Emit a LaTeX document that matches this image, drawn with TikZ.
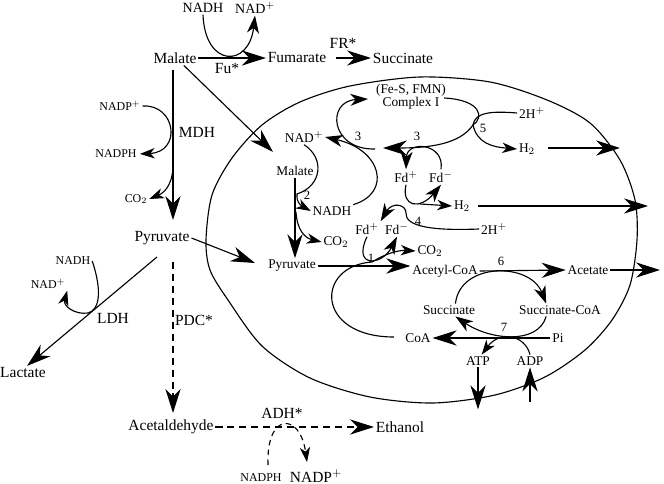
\documentclass[tikz,border=0pt]{standalone}
\usepackage{fontspec}
\setmainfont{Liberation Serif}
\usetikzlibrary{arrows.meta}

\begin{document}
\begin{tikzpicture}[x=0.025cm,y=-0.025cm,line width=0.8pt,
		lab/.style={font=\fontsize{11}{12}\selectfont,inner sep=1pt},
		mlab/.style={font=\fontsize{10}{11}\selectfont,inner sep=1pt},
		ilab/.style={font=\fontsize{9.5}{10}\selectfont,inner sep=1pt},
		slab/.style={font=\fontsize{8.5}{9}\selectfont,inner sep=1pt},
		numl/.style={font=\fontsize{9}{10}\selectfont,inner sep=0pt},
		bigarr/.style={-{Stealth[length=6mm,width=3.8mm,inset=1.9mm]}},
		midarr/.style={-{Stealth[length=4.4mm,width=3mm,inset=1.3mm]}},
		smallarr/.style={-{Stealth[length=3.7mm,width=2.6mm,inset=1.1mm]}},
		dsh/.style={dash pattern=on 5pt off 3.5pt}]
	\useasboundingbox (0,0) rectangle (664,484);
	\draw plot[smooth cycle] coordinates {(206,240) (212,195) (232,158) (262,125) (300,102) (350,86) (420,77) (490,82) (547,100) (590,123) (620,160) (635,200) (637,240) (630,285) (612,320) (585,350) (545,377) (495,395) (433,403) (370,397) (310,378) (262,346) (228,300) (210,270)};
	% outside
	\node[mlab] (nadhT) at (203,8) {NADH};
	\node[mlab] (nadT) at (255,8) {NAD$^+$};
	\node[lab] (malate) at (175,58) {Malate};
	\node[lab] (fumarate) at (297,58) {Fumarate};
	\node[lab] (succinate) at (403,58) {Succinate};
	\node[lab] (fu) at (227,69) {Fu*};
	\node[lab] (fr) at (343,43) {FR*};
	\node[lab] (mdh) at (197,132) {MDH};
	\node[slab] (nadpL) at (120,106) {NADP$^+$};
	\node[slab] (nadphL) at (116,154) {NADPH};
	\node[slab] (co2L) at (136,199) {CO$_2$};
	\node[lab] (pyruvate) at (162,238) {Pyruvate};
	\node[slab] (nadhLDH) at (73,261) {NADH};
	\node[slab] (nadLDH) at (48,284) {NAD$^+$};
	\node[lab] (ldh) at (113,318) {LDH};
	\node[lab] (lactate) at (23,373) {Lactate};
	\node[lab] (pdc) at (194,320) {PDC*};
	\node[lab] (acetald) at (171,427) {Acetaldehyde};
	\node[lab] (ethanol) at (400,427) {Ethanol};
	\node[lab] (adh) at (282,413) {ADH*};
	\node[slab] (nadphB) at (261,478) {NADPH};
	\node[lab] (nadpB) at (316,476) {NADP$^+$};
	% inside
	\node[ilab] (fes) at (411,90) {(Fe-S, FMN)};
	\node[ilab] (cplx) at (411,103) {Complex I};
	\node[ilab] (nadI) at (304,137) {NAD$^+$};
	\node[ilab] (malI) at (295,171) {Malate};
	\node[ilab] (pyrI) at (292,266) {Pyruvate};
	\node[ilab] (nadhI) at (332,211) {NADH};
	\node[ilab] (co2I) at (336,242) {CO$_2$};
	\node[ilab] (fdP1) at (406,177) {Fd$^+$};
	\node[ilab] (fdM1) at (441,177) {Fd$^-$};
	\node[ilab] (h2a) at (527,149) {H$_2$};
	\node[ilab] (hA) at (532,113) {2H$^+$};
	\node[ilab] (h2b) at (462,206) {H$_2$};
	\node[ilab] (hB) at (494,229) {2H$^+$};
	\node[ilab] (fdP2) at (367,229) {Fd$^+$};
	\node[ilab] (fdM2) at (397,229) {Fd$^-$};
	\node[ilab] (co2R) at (430,251) {CO$_2$};
	\node[ilab] (acoa) at (445,271) {Acetyl-CoA};
	\node[ilab] (acetate) at (588,270) {Acetate};
	\node[ilab] (succI) at (449,310) {Succinate};
	\node[ilab] (succoa) at (560,310) {Succinate-CoA};
	\node[ilab] (coa) at (418,338) {CoA};
	\node[ilab] (pi) at (558,338) {Pi};
	\node[ilab] (atp) at (478,361) {ATP};
	\node[ilab] (adp) at (530,361) {ADP};
	\node[numl] (n1) at (371,258) {1};
	\node[numl] (n2) at (307,195) {2};
	\node[numl] (n3a) at (358,136) {3};
	\node[numl] (n3b) at (417,136) {3};
	\node[numl] (n4) at (418,221) {4};
	\node[numl] (n5) at (483,128) {5};
	\node[numl] (n6) at (501,261) {6};
	\node[numl] (n7) at (504,327) {7};
	% free ends
	\coordinate (mdhTop) at (173,70);
	\coordinate (mdhEnd) at (173,220);
	\coordinate (mdhB) at (173,160);
	\coordinate (malIn) at (273,152);
	\coordinate (pyrIn) at (255,263);
	\coordinate (ldhS) at (157,257);
	\coordinate (pdcS) at (173,262);
	\coordinate (pdcE) at (173,413);
	\coordinate (adhIn) at (268,465);
	\coordinate (adhOut) at (307,462);
	\coordinate (r2) at (297,194);
	\coordinate (r2b) at (296,212);
	\coordinate (c1L) at (375,149);
	\coordinate (c1In) at (368,99);
	\coordinate (c1R) at (444,98);
	\coordinate (j5) at (473,125);
	\coordinate (fdArr) at (383,148);
	\coordinate (h2aS) at (548,148);
	\coordinate (h2aE) at (620,148);
	\coordinate (j4a) at (420,204);
	\coordinate (h2bS) at (478,206);
	\coordinate (h2bE) at (648,206);
	\coordinate (j1) at (372,262);
	\coordinate (coaL) at (394,337);
	\coordinate (acOut) at (660,270);
	\coordinate (adpIn) at (530,402);
	% outside pathways
	\draw[bigarr] (malate.east) -- (fumarate.west);
	\draw[midarr] (nadhT.south) .. controls (205,68) and (249,68) .. (nadT.south);
	\draw[bigarr,shorten <=2mm] (fumarate.east) -- (succinate.west);
	\draw[bigarr] (mdhTop) -- (mdhEnd);
	\draw[smallarr,shorten >=1pt] (nadpL.east) .. controls (176,104) and (182,152) .. (nadphL.east);
	\draw[smallarr] (mdhB) .. controls (174,182) and (166,192) .. (co2L.east);
	\draw[bigarr] (malate.-40) -- (malIn);
	\draw[bigarr] (pyruvate.east) -- (pyrIn);
	\draw[bigarr] (ldhS) -- (lactate.60);
	\draw[smallarr] (nadhLDH.east) .. controls (102,290) and (100,310) .. (88,313) .. controls (75,315) and (63,306) .. (nadLDH.south east);
	\draw[bigarr,dsh] (pdcS) -- (pdcE);
	\draw[bigarr,dsh] (acetald.east) -- (ethanol.west);
	\draw[smallarr,dash pattern=on 4pt off 3pt] (adhIn) .. controls (266,412) and (300,412) .. (adhOut);
	% inside pathways
	\draw[bigarr] (malI.south) -- (malI.south |- pyrI.north);
	\draw[smallarr] (nadI.south) .. controls (325,158) and (322,186) .. (r2) .. controls (296,201) and (300,205) .. (nadhI.west);
	\draw[smallarr] (r2b) .. controls (297,230) and (305,238) .. (co2I.west);
	\draw[midarr] (nadhI.north east) .. controls (392,193) and (382,150) .. (nadI.east);
	\draw[midarr] (c1L) .. controls (330,150) and (326,101) .. (c1In);
	\draw (c1R) .. controls (482,100) and (484,118) .. (j5);
	\draw[bigarr] (j5) .. controls (460,144) and (430,148) .. (fdArr);
	\draw[smallarr] (j5) .. controls (477,143) and (492,147) .. (h2a.west);
	\draw (hA.west) .. controls (492,111) and (475,112) .. (j5);
	\draw[bigarr] (h2aS) -- (h2aE);
	\draw[midarr] (fdM1.north) .. controls (445,143) and (407,140) .. (fdP1.north);
	\draw[midarr] (fdP1.south) .. controls (401,207) and (420,210) .. (fdM1.south);
	\draw[smallarr] (j4a) -- (h2b.west);
	\draw[bigarr] (h2bS) -- (h2bE);
	\draw[midarr] (hB.west) .. controls (430,231) and (405,226) .. (406,213) .. controls (406,204) and (392,202) .. (fdP2.north east);
	\draw[midarr] (fdP2.south) .. controls (352,268) and (382,266) .. (fdM2.south);
	\draw[smallarr] (j1) .. controls (385,254) and (398,250) .. (co2R.west);
	\draw[bigarr] (pyrI.east) -- (pyrI.east -| acoa.west);
	\draw (coaL) .. controls (315,337) and (315,266) .. (j1);
	\draw[bigarr] (acoa.east) -- (acetate.west);
	\draw[bigarr] (acetate.east) -- (acOut);
	\draw[midarr] (succI.45) .. controls (460,262) and (530,262) .. (succoa.155);
	\draw[midarr] (succoa.-155) .. controls (538,345) and (490,340) .. (succI.-45);
	\draw[bigarr] (pi.west) -- (coa.east);
	\draw[smallarr] (adp.north) .. controls (525,335) and (500,330) .. (atp.60);
	\draw[bigarr] (atp.south) -- ++(0,42);
	\draw[bigarr] (adpIn) -- (adp.south);
\end{tikzpicture}
\end{document}
